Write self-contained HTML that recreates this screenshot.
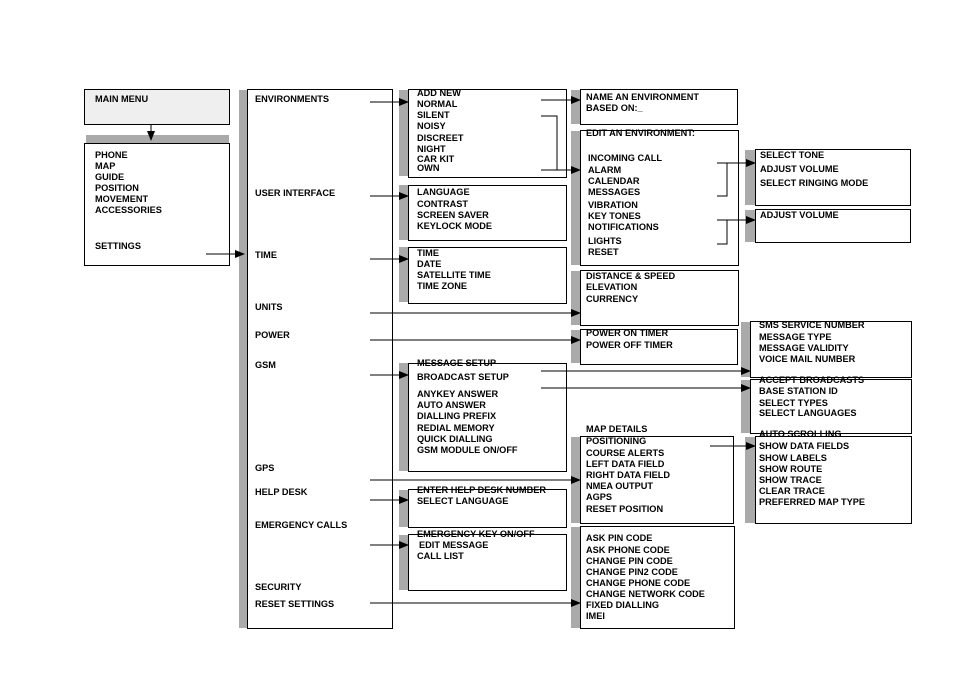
<!DOCTYPE html>
<html><head><meta charset="utf-8"><style>
html,body{margin:0;padding:0;background:#fff;}
svg text{font-family:"Liberation Sans",sans-serif;font-size:9.2px;font-weight:bold;fill:#000;}
</style></head><body>
<svg width="964" height="680" xmlns="http://www.w3.org/2000/svg">
<defs><marker id="a" markerWidth="10" markerHeight="8" refX="9" refY="4" orient="auto" markerUnits="userSpaceOnUse"><path d="M0,0 L10,4 L0,8 z" fill="#000"/></marker></defs>
<g fill="#aaa">
<rect x="86" y="135" width="143" height="8"/>
<rect x="239" y="90" width="8" height="538"/>
<rect x="399" y="90" width="9" height="86"/>
<rect x="399" y="185" width="9" height="55"/>
<rect x="399" y="247" width="9" height="55"/>
<rect x="399" y="363" width="9" height="108"/>
<rect x="399" y="490" width="9" height="37"/>
<rect x="399" y="535" width="9" height="55"/>
<rect x="571" y="90" width="9" height="34"/>
<rect x="571" y="131" width="9" height="134"/>
<rect x="571" y="271" width="9" height="54"/>
<rect x="571" y="330" width="9" height="33"/>
<rect x="571" y="437" width="9" height="86"/>
<rect x="571" y="527" width="9" height="101"/>
<rect x="745" y="150" width="10" height="55"/>
<rect x="745" y="210" width="10" height="32"/>
<rect x="741" y="322" width="9" height="55"/>
<rect x="741" y="380" width="9" height="53"/>
<rect x="745" y="437" width="10" height="86"/>
</g>
<g fill="#fff" stroke="#000" stroke-width="1">
<rect x="84.5" y="89.5" width="145" height="35" fill="#efefef"/>
<rect x="84.5" y="143.5" width="145" height="122"/>
<rect x="247.5" y="89.5" width="145" height="539"/>
<rect x="408.5" y="89.5" width="158" height="88"/>
<rect x="408.5" y="185.5" width="158" height="55"/>
<rect x="408.5" y="247.5" width="158" height="56"/>
<rect x="408.5" y="363.5" width="158" height="108"/>
<rect x="408.5" y="489.5" width="158" height="38"/>
<rect x="408.5" y="534.5" width="158" height="56"/>
<rect x="580.5" y="89.5" width="157" height="35"/>
<rect x="580.5" y="130.5" width="158" height="135"/>
<rect x="580.5" y="270.5" width="158" height="55"/>
<rect x="580.5" y="329.5" width="157" height="35"/>
<rect x="580.5" y="436.5" width="153" height="87"/>
<rect x="580.5" y="526.5" width="154" height="102"/>
<rect x="755.5" y="149.5" width="155" height="56"/>
<rect x="755.5" y="209.5" width="155" height="33"/>
<rect x="750.5" y="321.5" width="161" height="56"/>
<rect x="750.5" y="379.5" width="161" height="54"/>
<rect x="755.5" y="436.5" width="156" height="87"/>
</g>
<g stroke="#000" stroke-width="1" fill="none" marker-end="url(#a)">
<line x1="151" y1="124" x2="151" y2="140"/>
<line x1="206" y1="254" x2="244" y2="254"/>
<line x1="370" y1="102" x2="408" y2="102"/>
<line x1="370" y1="196" x2="408" y2="196"/>
<line x1="370" y1="259" x2="408" y2="259"/>
<line x1="370" y1="313" x2="580" y2="313"/>
<line x1="370" y1="340" x2="580" y2="340"/>
<line x1="370" y1="375" x2="408" y2="375"/>
<line x1="370" y1="480" x2="580" y2="480"/>
<line x1="370" y1="500" x2="408" y2="500"/>
<line x1="370" y1="545" x2="408" y2="545"/>
<line x1="370" y1="603" x2="580" y2="603"/>
<line x1="541" y1="100" x2="580" y2="100"/>
<line x1="541" y1="170" x2="580" y2="170"/>
<line x1="717" y1="163" x2="755" y2="163"/>
<line x1="717" y1="220" x2="755" y2="220"/>
<line x1="541" y1="371" x2="750" y2="371"/>
<line x1="541" y1="388" x2="750" y2="388"/>
<line x1="710" y1="446" x2="755" y2="446"/>
</g>
<g stroke="#000" stroke-width="1" fill="none">
<polyline points="541,116 557,116 557,170"/>
<polyline points="717,196 727,196 727,163"/>
<polyline points="717,244 727,244 727,220"/>
</g>
<text x="95" y="102">MAIN MENU</text>
<text x="95" y="158">PHONE</text><text x="95" y="169">MAP</text><text x="95" y="180">GUIDE</text><text x="95" y="191">POSITION</text><text x="95" y="202">MOVEMENT</text><text x="95" y="213">ACCESSORIES</text><text x="95" y="249">SETTINGS</text>
<text x="255" y="102">ENVIRONMENTS</text><text x="255" y="196">USER INTERFACE</text><text x="255" y="258">TIME</text><text x="255" y="310">UNITS</text><text x="255" y="338">POWER</text><text x="255" y="368">GSM</text><text x="255" y="471">GPS</text><text x="255" y="495">HELP DESK</text><text x="255" y="528">EMERGENCY CALLS</text><text x="255" y="590">SECURITY</text><text x="255" y="607">RESET SETTINGS</text>
<text x="417" y="96">ADD NEW</text><text x="417" y="107">NORMAL</text><text x="417" y="118">SILENT</text><text x="417" y="129">NOISY</text><text x="417" y="141">DISCREET</text><text x="417" y="152">NIGHT</text><text x="417" y="162">CAR KIT</text><text x="417" y="171">OWN</text>
<text x="417" y="195">LANGUAGE</text><text x="417" y="207">CONTRAST</text><text x="417" y="218">SCREEN SAVER</text><text x="417" y="229">KEYLOCK MODE</text>
<text x="417" y="256">TIME</text><text x="417" y="267">DATE</text><text x="417" y="278">SATELLITE TIME</text><text x="417" y="289">TIME ZONE</text>
<text x="417" y="366">MESSAGE SETUP</text><text x="417" y="380">BROADCAST SETUP</text><text x="417" y="397">ANYKEY ANSWER</text><text x="417" y="408">AUTO ANSWER</text><text x="417" y="419">DIALLING PREFIX</text><text x="417" y="431">REDIAL MEMORY</text><text x="417" y="442">QUICK DIALLING</text><text x="417" y="453">GSM MODULE ON/OFF</text>
<text x="417" y="493">ENTER HELP DESK NUMBER</text><text x="417" y="504">SELECT LANGUAGE</text>
<text x="417" y="537">EMERGENCY KEY ON/OFF</text><text x="419" y="548">EDIT MESSAGE</text><text x="417" y="559">CALL LIST</text>
<text x="586" y="100">NAME AN ENVIRONMENT</text><text x="586" y="111">BASED ON:_</text>
<text x="586" y="136">EDIT AN ENVIRONMENT:</text><text x="588" y="161">INCOMING CALL</text><text x="588" y="173">ALARM</text><text x="588" y="184">CALENDAR</text><text x="588" y="195">MESSAGES</text><text x="588" y="208">VIBRATION</text><text x="588" y="219">KEY TONES</text><text x="588" y="230">NOTIFICATIONS</text><text x="588" y="244">LIGHTS</text><text x="588" y="255">RESET</text>
<text x="586" y="279">DISTANCE &amp; SPEED</text><text x="586" y="290">ELEVATION</text><text x="586" y="302">CURRENCY</text>
<text x="586" y="336">POWER ON TIMER</text><text x="586" y="348">POWER OFF TIMER</text>
<text x="586" y="432">MAP DETAILS</text><text x="586" y="444">POSITIONING</text><text x="586" y="456">COURSE ALERTS</text><text x="586" y="467">LEFT DATA FIELD</text><text x="586" y="478">RIGHT DATA FIELD</text><text x="586" y="489">NMEA OUTPUT</text><text x="586" y="500">AGPS</text><text x="586" y="512">RESET POSITION</text>
<text x="586" y="541">ASK PIN CODE</text><text x="586" y="553">ASK PHONE CODE</text><text x="586" y="564">CHANGE PIN CODE</text><text x="586" y="575">CHANGE PIN2 CODE</text><text x="586" y="586">CHANGE PHONE CODE</text><text x="586" y="597">CHANGE NETWORK CODE</text><text x="586" y="608">FIXED DIALLING</text><text x="586" y="619">IMEI</text>
<text x="760" y="158">SELECT TONE</text><text x="760" y="172">ADJUST VOLUME</text><text x="760" y="186">SELECT RINGING MODE</text>
<text x="760" y="218">ADJUST VOLUME</text>
<text x="759" y="328">SMS SERVICE NUMBER</text><text x="759" y="340">MESSAGE TYPE</text><text x="759" y="351">MESSAGE VALIDITY</text><text x="759" y="362">VOICE MAIL NUMBER</text>
<text x="759" y="383">ACCEPT BROADCASTS</text><text x="759" y="394">BASE STATION ID</text><text x="759" y="406">SELECT TYPES</text><text x="759" y="416">SELECT LANGUAGES</text>
<text x="759" y="437">AUTO SCROLLING</text><text x="759" y="449">SHOW DATA FIELDS</text><text x="759" y="461">SHOW LABELS</text><text x="759" y="472">SHOW ROUTE</text><text x="759" y="483">SHOW TRACE</text><text x="759" y="494">CLEAR TRACE</text><text x="759" y="505">PREFERRED MAP TYPE</text>
</svg>
</body></html>
